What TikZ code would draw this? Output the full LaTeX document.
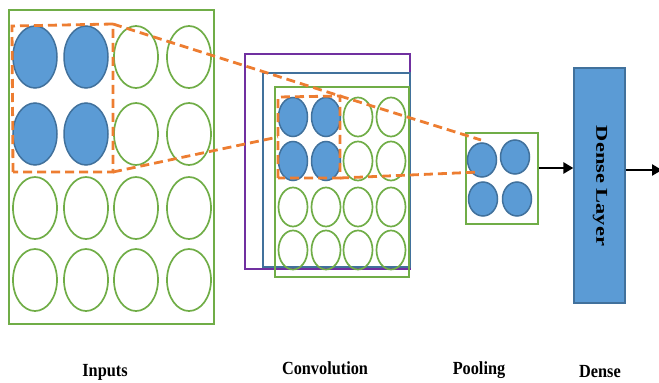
\documentclass[tikz,border=0pt]{standalone}
\usepackage{fontspec}
\setmainfont{Liberation Serif}
\usetikzlibrary{shapes.geometric,arrows.meta}
\definecolor{cgreen}{HTML}{70AD47}
\definecolor{cblue}{HTML}{5B9BD5}
\definecolor{cblueline}{HTML}{41719C}
\definecolor{corange}{HTML}{ED7D31}
\definecolor{cpurple}{HTML}{7030A0}
\tikzset{
  frame/.style={draw=cgreen, line width=2.2pt},
  emptycell/.style={ellipse, draw=cgreen, line width=1.7pt, inner sep=0pt},
  fullcell/.style={ellipse, draw=cblueline, fill=cblue, line width=1.5pt, inner sep=0pt},
  bigcell/.style={minimum width=44pt, minimum height=62pt},
  midcell/.style={minimum width=29pt, minimum height=39pt},
  smallcell/.style={minimum width=29pt, minimum height=34pt},
  window/.style={draw=corange, line width=2.8pt, dash pattern=on 9pt off 5pt},
  flow/.style={draw=black, line width=2.6pt, -{Triangle[length=10pt,width=11pt]}},
  caption/.style={font=\fontsize{18.5}{20}\selectfont\bfseries, inner sep=0pt}
}
\begin{document}
\begin{tikzpicture}[x=1pt,y=-1pt]
\useasboundingbox (0,0) rectangle (659,383);

% ---------- input grid ----------
\draw[frame] (9,10) rectangle (214,324);
\foreach \c/\x in {1/35,2/86,3/136,4/189}{
  \foreach \r/\y in {1/57,2/134,3/208,4/280}{
    \pgfmathtruncatemacro{\filled}{(\c<3)&&(\r<3)}
    \ifnum\filled=1
      \node[fullcell,bigcell] (in\r\c) at (\x,\y) {};
    \else
      \node[emptycell,bigcell] (in\r\c) at (\x,\y) {};
    \fi
  }
}
% receptive window on the inputs
\coordinate (iwTL) at (12,26);
\coordinate (iwTR) at (113,24);
\coordinate (iwBR) at (113,172);
\coordinate (iwBL) at (13,172);
\draw[window] (iwBL) -- (iwTL) -- (iwTR) -- (iwBR) -- cycle;

% ---------- convolution stack ----------
\draw[draw=cpurple, line width=1.9pt] (245,54) rectangle (410,269);
\draw[draw=cblueline, line width=1.9pt] (263,73) rectangle (410,267);
\draw[frame, line width=1.7pt] (275,87) rectangle (409,277);
\foreach \c/\x in {1/293,2/326,3/358,4/391}{
  \foreach \r/\y in {1/117,2/161,3/207,4/250}{
    \pgfmathtruncatemacro{\filled}{(\c<3)&&(\r<3)}
    \ifnum\filled=1
      \node[fullcell,midcell] (cv\r\c) at (\x,\y) {};
    \else
      \node[emptycell,midcell] (cv\r\c) at (\x,\y) {};
    \fi
  }
}
\coordinate (cwTL) at (278,97);
\coordinate (cwTR) at (340,96);
\coordinate (cwBR) at (340,178);
\coordinate (cwBL) at (278,178);
\coordinate (cwL) at (278,137);
\draw[window] (cwBL) -- (cwTL) -- (cwTR) -- (cwBR) -- cycle;

% ---------- pooling ----------
\draw[frame] (466,133) rectangle (538,224);
\node[fullcell,smallcell] (pl11) at (482,160) {};
\node[fullcell,smallcell] (pl12) at (515,157) {};
\node[fullcell,smallcell] (pl21) at (483,199) {};
\node[fullcell,smallcell] (pl22) at (517,199) {};
\coordinate (plT) at (481,140);
\coordinate (plB) at (480,172);

% projection lines between the stages
\draw[window] (iwTR) -- (cwTR) -- (plT);
\draw[window] (iwBR) -- (cwL);
\draw[window] (cwBR) -- (plB);

% ---------- dense layer ----------
\node[draw=cblueline, fill=cblue, line width=1.2pt, minimum width=51pt, minimum height=235pt, inner sep=0pt] (dense) at (599.5,185.5) {};
\node[font=\fontsize{16.5}{18}\selectfont\bfseries, rotate=-90, inner sep=0pt] at (600,186) {\scalebox{1.36}[1]{Dense Layer}};
\coordinate (poolR) at (539,168);
\coordinate (outEnd) at (662,170);
\draw[flow] (poolR) -- (dense.west |- poolR);
\draw[flow] (dense.east |- outEnd) -- (outEnd);

% ---------- captions ----------
\node[caption] at (105,372) {\scalebox{0.88}[1]{Inputs}};
\node[caption] at (325,368) {\scalebox{0.88}[1]{Convolution}};
\node[caption] at (479,370) {\scalebox{0.88}[1]{Pooling}};
\node[caption] at (600,372) {\scalebox{0.88}[1]{Dense}};
\end{tikzpicture}
\end{document}
